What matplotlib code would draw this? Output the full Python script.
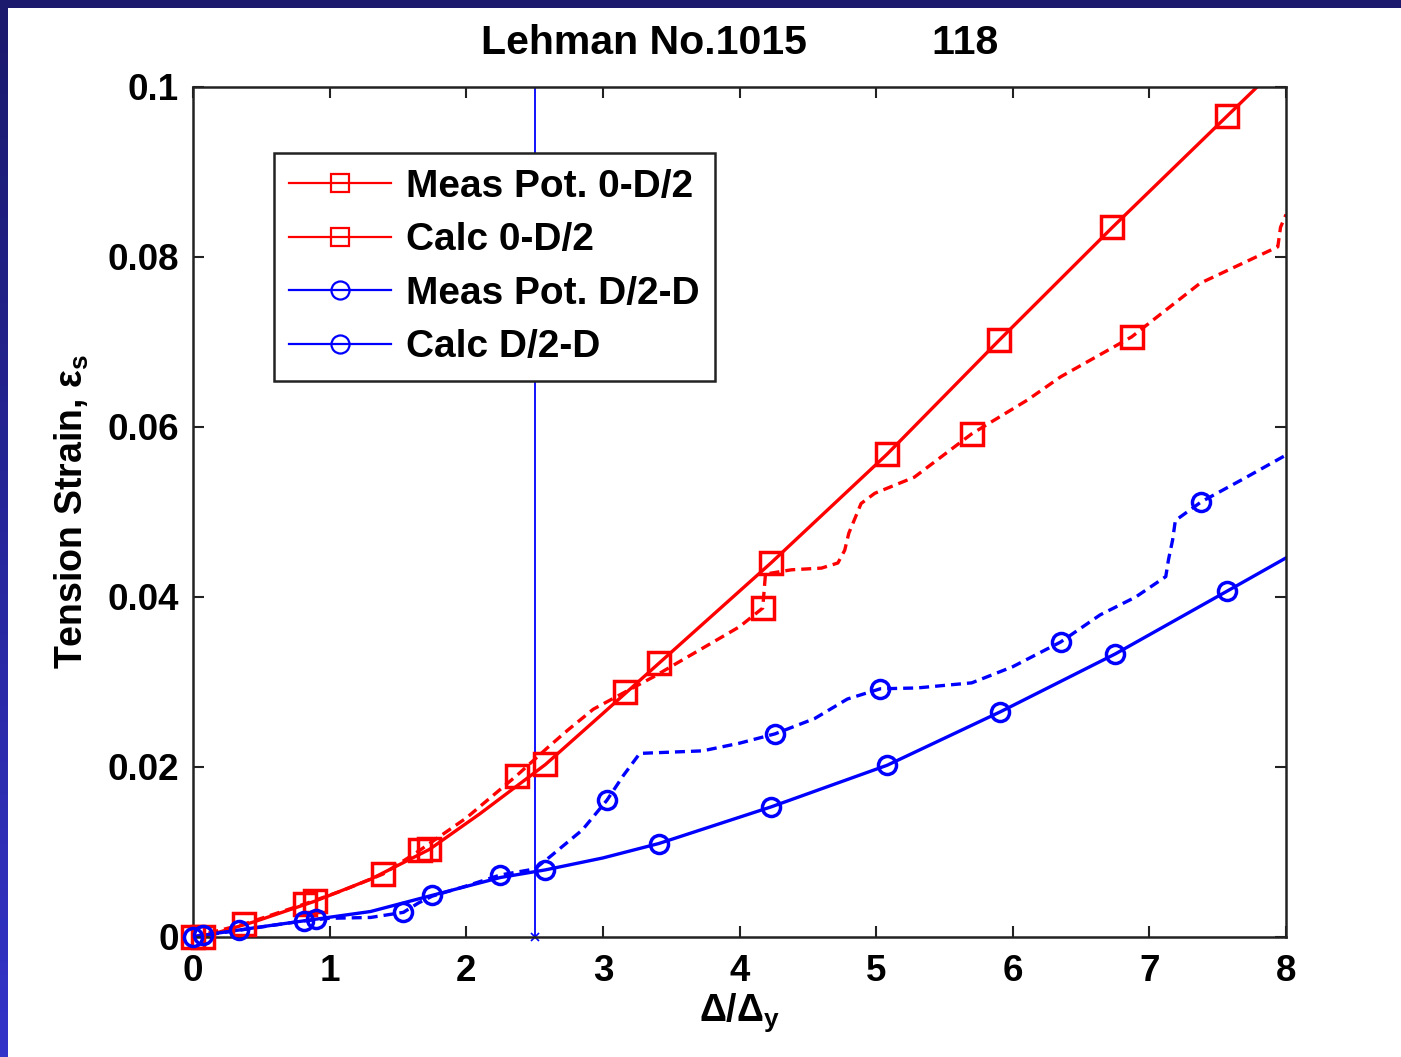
import matplotlib

matplotlib.use("Agg")
import matplotlib.pyplot as plt
import numpy as np
from matplotlib.lines import Line2D
from matplotlib.patches import Rectangle

plt.rcParams["font.family"] = ["Liberation Sans", "DejaVu Sans"]
plt.rcParams["font.weight"] = "bold"
plt.rcParams["mathtext.fontset"] = "custom"
plt.rcParams["mathtext.rm"] = "Liberation Sans:bold"
plt.rcParams["mathtext.it"] = "Liberation Sans:bold"
plt.rcParams["mathtext.bf"] = "Liberation Sans:bold"

RED = "#ff0000"
BLUE = "#0000ff"

# measured, 0 - D/2 (dashed red)
meas_a_x = [0, 0.37, 0.82, 1.1, 1.39, 1.66, 2.0, 2.37, 2.59, 2.74, 2.93, 3.16, 3.37, 3.54,
            4.0, 4.17, 4.19, 4.38, 4.6, 4.72, 4.77, 4.80, 4.89, 4.99, 5.28, 5.70, 6.11,
            6.35, 6.87, 7.37, 7.94, 7.96, 8.0]
meas_a_y = [0, 0.0015, 0.0039, 0.0055, 0.0074, 0.0102, 0.0140, 0.0190, 0.0222, 0.0243,
            0.0268, 0.0288, 0.0306, 0.0322, 0.0365, 0.0387, 0.0427, 0.0432, 0.0434, 0.0440,
            0.0455, 0.0475, 0.0510, 0.0522, 0.0541, 0.0592, 0.0632, 0.0659, 0.0706,
            0.0769, 0.0812, 0.0835, 0.0850]
meas_a_marks = [0, 1, 2, 4, 5, 7, 11, 15, 25, 28]

# calculated, 0 - D/2 (solid red)
calc_a_x = [0, 0.07, 0.45, 0.89, 1.3, 1.73, 2.1, 2.58, 3.0, 3.41, 4.23, 5.08, 5.90, 6.73,
            7.57, 8.0]
calc_a_y = [0, 0, 0.0018, 0.0042, 0.0068, 0.0103, 0.0145, 0.0203, 0.0263, 0.0322, 0.0440,
            0.0568, 0.0702, 0.0835, 0.0966, 0.1033]
calc_a_marks = [1, 3, 5, 7, 9, 10, 11, 12, 13, 14]

# measured, D/2 - D (dashed blue)
meas_b_x = [0, 0.34, 0.81, 1.0, 1.3, 1.54, 1.65, 1.75, 2.0, 2.25, 2.5, 2.61, 2.85, 3.03,
            3.15, 3.27, 3.73, 4.0, 4.26, 4.55, 4.79, 5.03, 5.3, 5.70, 6.0, 6.35, 6.64, 6.9,
            7.12, 7.14, 7.17, 7.19, 7.38, 7.7, 8.0]
meas_b_y = [0, 0.0008, 0.0019, 0.0022, 0.0023, 0.0029, 0.0040, 0.0048, 0.0060, 0.0073,
            0.0080, 0.0094, 0.0126, 0.0161, 0.0190, 0.0216, 0.0219, 0.0228, 0.0239, 0.0257,
            0.0280, 0.0292, 0.0293, 0.0299, 0.0318, 0.0347, 0.0379, 0.0400, 0.0424, 0.0444,
            0.0467, 0.0490, 0.0512, 0.0540, 0.0567]
meas_b_marks = [0, 1, 2, 5, 9, 13, 18, 21, 25, 32]

# calculated, D/2 - D (solid blue)
calc_b_x = [0, 0.07, 0.5, 0.9, 1.3, 1.75, 2.25, 2.58, 3.0, 3.41, 4.23, 5.08, 5.91, 6.75,
            7.57, 8.0]
calc_b_y = [0, 0.0002, 0.0012, 0.0021, 0.0030, 0.0049, 0.0070, 0.0079, 0.0093, 0.0110,
            0.0153, 0.0202, 0.0265, 0.0333, 0.0407, 0.0446]
calc_b_marks = [1, 3, 5, 7, 9, 10, 11, 12, 13, 14]

yield_ratio = 2.5
x_ticks = [0, 1, 2, 3, 4, 5, 6, 7, 8]
y_ticks = [0, 0.02, 0.04, 0.06, 0.08, 0.1]
y_labels = ["0", "0.02", "0.04", "0.06", "0.08", "0.1"]
legend_names = ["Meas Pot. 0-D/2", "Calc 0-D/2", "Meas Pot. D/2-D", "Calc D/2-D"]

W, H = 1401, 1057
fig = plt.figure(figsize=(W / 100, H / 100), dpi=100, facecolor="white")
# navy slide frame: top band and a left strip that brightens towards the bottom
fig.patches.append(Rectangle((0, 1 - 8 / H), 1, 8 / H, transform=fig.transFigure,
                             facecolor="#1b1a6d", edgecolor="none", zorder=-5))
strip = fig.add_axes([0, 0, 8 / W, 1 - 8 / H], zorder=-5)
grad = np.linspace(0, 1, 256)[:, None]
strip.imshow(grad, aspect="auto", cmap=matplotlib.colors.LinearSegmentedColormap.from_list(
    "edge", ["#1b1a6d", "#3333c9"]), origin="upper")
strip.axis("off")

ax = fig.add_axes([193 / W, 1 - 937 / H, (1286 - 193) / W, (937 - 87) / H])

lw, mew = 2.4, 2.5
series = [
    (meas_a_x, meas_a_y, meas_a_marks, RED, "s", 16, True),
    (calc_a_x, calc_a_y, calc_a_marks, RED, "s", 16, False),
    (meas_b_x, meas_b_y, meas_b_marks, BLUE, "o", 13, True),
    (calc_b_x, calc_b_y, calc_b_marks, BLUE, "o", 13, False),
]
for xs, ys, marks, col, mk, ms, dashed in series:
    xs, ys = np.array(xs), np.array(ys)
    line, = ax.plot(xs, ys, color=col, lw=lw)
    if dashed:
        line.set_linestyle((0, (3, 1.8)))
    ax.plot(xs[marks], ys[marks], ls="none", marker=mk, ms=ms, mfc="none", mec=col,
            mew=mew, clip_on=False, zorder=3)

ax.axvline(yield_ratio, color=BLUE, lw=1.3)
ax.plot([yield_ratio], [0], marker="x", color=BLUE, ms=6, mew=1.2, clip_on=False)

ax.set_xlim(0, 8)
ax.set_ylim(0, 0.1)
ax.set_xticks(x_ticks)
ax.set_yticks(y_ticks)
ax.set_yticklabels(y_labels)
ax.tick_params(direction="in", length=8, width=1.5, top=True, right=True,
               labelsize=26.5, color="#222222")
ax.tick_params(axis="x", pad=12)
ax.tick_params(axis="y", pad=10)
for s in ax.spines.values():
    s.set_linewidth(1.8)
    s.set_color("#222222")

ax.set_title("Lehman No.1015" + " " * 11 + "118", fontsize=29.5, fontweight="bold", pad=24)
ax.set_xlabel(r"$\Delta/\Delta_y$", fontsize=27, fontweight="bold", labelpad=2)
ax.set_ylabel(r"Tension Strain, $\varepsilon_s$", fontsize=27, fontweight="bold",
              labelpad=12)

handles = [
    Line2D([], [], color=RED, lw=1.6, marker="s", ms=13, mfc="none", mew=1.6),
    Line2D([], [], color=RED, lw=1.6, marker="s", ms=13, mfc="none", mew=1.6),
    Line2D([], [], color=BLUE, lw=1.6, marker="o", ms=13, mfc="none", mew=1.6),
    Line2D([], [], color=BLUE, lw=1.6, marker="o", ms=13, mfc="none", mew=1.6),
]
leg = ax.legend(handles, legend_names, loc="upper left", bbox_to_anchor=(0.074, 0.922),
                borderaxespad=0, fontsize=28, fancybox=False, framealpha=1,
                edgecolor="#222222", handlelength=2.6, labelspacing=0.45,
                borderpad=0.4, handletextpad=0.4)
leg.get_frame().set_linewidth(1.8)

fig.savefig("out.png", dpi=100, facecolor=fig.get_facecolor())
